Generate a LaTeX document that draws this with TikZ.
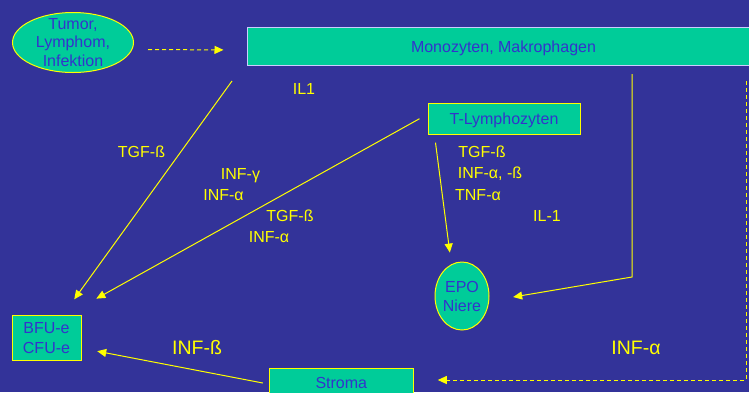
\documentclass[tikz,border=0pt]{standalone}
\usepackage{fontspec}
\setmainfont{Liberation Sans}
\usepackage{tikz}
\usetikzlibrary{positioning,arrows.meta}
\usetikzlibrary{shapes.geometric}

\definecolor{slideBlue}{RGB}{51,51,153}
\definecolor{cellGreen}{RGB}{0,204,153}
\definecolor{cellText}{RGB}{51,51,204}
\definecolor{signalYellow}{RGB}{255,255,0}
\definecolor{boxEdge}{RGB}{204,204,255}

\begin{document}
\begin{tikzpicture}[x=1pt, y=-1pt]
  \tikzstyle{cell} = [
    % The shape:
    rectangle, inner sep=2pt,
    % The border:
    draw=signalYellow, line width=1pt,
    % The filling:
    fill=cellGreen,
    % Font:
    text=cellText, align=center,
    font=\fontsize{16}{19}\selectfont
  ];
  \tikzstyle{oneLine} = [
    text height=11.5pt, text depth=0pt
  ];
  \tikzstyle{annotation} = [
    % Just text!
    text=signalYellow, anchor=base,
    font=\fontsize{16}{19}\selectfont
  ];
  \tikzstyle{bigAnnotation} = [
    annotation,
    font=\fontsize{19.5}{23}\selectfont
  ];
  \tikzstyle{flow} = [
    draw=signalYellow,
    line width=1pt,
    -{Triangle[length=9pt,width=8pt]}
  ];
  \tikzstyle{dashedFlow} = [
    flow,
    dash pattern=on 4pt off 3pt
  ];

  % slide background
  \useasboundingbox (0,0) rectangle (749,392);
  \fill [slideBlue] (0,0) rectangle (749,392);

  \node [cell, ellipse, inner sep=0pt, minimum width=121pt, minimum height=60pt,
         label={[text=cellText, align=center, font=\fontsize{16}{18.8}\selectfont]center:{Tumor,\\Lymphom,\\Infektion}}]
        (tumor) at (73,42.5) {};
  \node [cell, oneLine, draw=boxEdge, minimum width=513pt, minimum height=38pt]
        (mono) at (503.5,46.5) {Monozyten, Makrophagen};
  \node [cell, oneLine, minimum width=152pt, minimum height=31pt]
        (tlym) at (504,118.7) {T-Lymphozyten};
  \node [cell, ellipse, inner sep=0pt, minimum width=54pt, minimum height=68pt,
         label={[text=cellText, align=center, font=\fontsize{16}{19}\selectfont]center:{EPO\\Niere}}]
        (epo) at (462,296) {};
  \node [cell, minimum width=69pt, minimum height=45pt, font=\fontsize{16}{20}\selectfont]
        (bfu) at (46.5,337.7) {BFU-e\\CFU-e};
  \node [cell, oneLine, minimum width=144pt, minimum height=30pt]
        (stroma) at (341.3,383) {Stroma};

  \node [annotation] (ilOne) at (304,94) {IL1};
  \node [annotation] (tgfMono) at (141.5,157) {TGF-ß};
  \node [annotation] (infGamma) at (240.5,179) {INF-γ};
  \node [annotation] (infAlphaA) at (223.5,200) {INF-α};
  \node [annotation] (tgfT) at (290,221) {TGF-ß};
  \node [annotation] (infAlphaB) at (269,242) {INF-α};
  \node [annotation] (tgfEpo) at (482,157) {TGF-ß};
  \node [annotation] (infEpo) at (490,178) {INF-α, -ß};
  \node [annotation] (tnfEpo) at (478,200) {TNF-α};
  \node [annotation] (ilEpo) at (547,221) {IL-1};
  \node [bigAnnotation] (infBeta) at (197,354) {INF-ß};
  \node [bigAnnotation] (infAlphaStroma) at (636,354) {INF-α};

  \coordinate (tgfStart) at (232,81);

  \path [dashedFlow, shorten <=14pt, shorten >=23pt]
        ([yshift=-7pt]tumor.east) to ([yshift=-3.5pt]mono.west);
  \path [flow, shorten >=19pt] (tgfStart) to (bfu);
  \path [flow, shorten >=33pt] ([xshift=-8pt]tlym.west) to ([xshift=-14pt]bfu.north east);
  \path [flow, shorten >=9pt] ([xshift=8pt,yshift=-8pt]tlym.south west) to ([xshift=-11pt]epo.north);
  \path [flow, shorten >=24pt] ([xshift=128.5pt,yshift=-8pt]mono.south)
                               -- ++(0,203)
                               -- ([yshift=-5pt]epo.east);
  \path [dashedFlow, shorten >=24pt] ([xshift=242.5pt,yshift=-15pt]mono.south)
                                     |- ([yshift=3pt]stroma.east);
  \path [flow, shorten >=16pt] ([xshift=-6pt]stroma.west) to ([yshift=-10.5pt]bfu.east);
\end{tikzpicture}
\end{document}
